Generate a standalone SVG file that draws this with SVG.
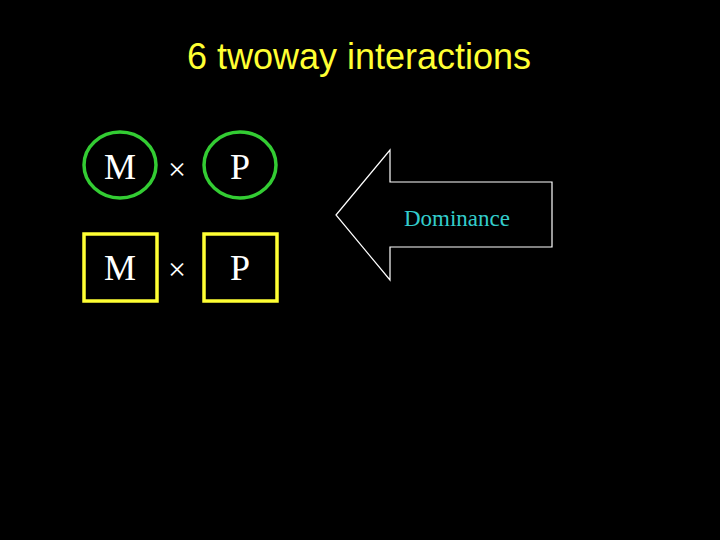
<svg xmlns="http://www.w3.org/2000/svg" width="720" height="540" viewBox="0 0 720 540">
<style>
.t{font-family:"Liberation Serif","Times New Roman",serif;fill:#ffffff;text-anchor:middle}
.big{font-size:36px}
.x{font-size:32px}
.ell{fill:none;stroke:#33cc33;stroke-width:3.5}
.sq{fill:none;stroke:#ffff33;stroke-width:3.5}
</style>
<rect width="720" height="540" fill="#000"/>
<text x="359" y="69" font-family="'Liberation Sans',Arial,sans-serif" font-size="36" fill="#ffff33" text-anchor="middle">6 twoway interactions</text>
<g id="m-circle"><ellipse class="ell" cx="120" cy="165" rx="36" ry="33"/><text class="t big" x="120" y="179">M</text></g>
<g id="x1"><text class="t x" x="177" y="180">×</text></g>
<g id="p-circle"><ellipse class="ell" cx="240" cy="165" rx="36" ry="33"/><text class="t big" x="240" y="179">P</text></g>
<g id="m-square"><rect class="sq" x="84" y="234" width="73" height="67"/><text class="t big" x="120" y="280">M</text></g>
<g id="x2"><text class="t x" x="177" y="280">×</text></g>
<g id="p-square"><rect class="sq" x="204" y="234" width="73" height="67"/><text class="t big" x="240" y="280">P</text></g>
<g id="dominance"><path d="M336,215 L390,150 L390,182 L552,182 L552,247 L390,247 L390,280 Z" fill="none" stroke="#ffffff" stroke-width="1.2"/><text x="457" y="226" font-family="'Liberation Serif','Times New Roman',serif" font-size="23" fill="#33cccc" text-anchor="middle">Dominance</text></g>
</svg>
